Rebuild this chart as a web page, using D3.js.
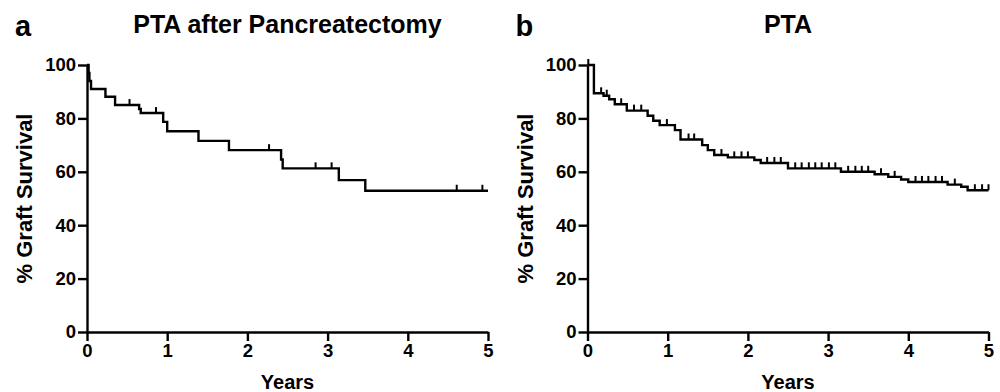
<!DOCTYPE html>
<html>
<head>
<meta charset="utf-8">
<script src="https://cdn.jsdelivr.net/npm/d3@7"></script>
<style>
  body { margin: 0; background: #fff; }
  svg text { font-family: "Liberation Sans", Arial, sans-serif; font-weight: bold; fill: #000; }
  .axis path, .axis line { stroke: #000; stroke-width: 2.4px; }
  .axis text { font-size: 18.5px; }
</style>
</head>
<body>
<svg id="chart" width="1000" height="392"></svg>
<script>
// shared axis values
const yearTicks = [0, 1, 2, 3, 4, 5];
const survivalTicks = [0, 20, 40, 60, 80, 100];

// panel a: [years, % survival] at each drop
const afterPancreatectomySteps = [
  [0, 100], [0.02, 97], [0.03, 94], [0.05, 91], [0.23, 88.1], [0.35, 85],
  [0.65, 83.5], [0.67, 82], [0.95, 78.7], [1.0, 75.2], [1.39, 71.6],
  [1.77, 68.1], [2.42, 64.6], [2.44, 61.3], [3.14, 56.9], [3.47, 52.9]
];
const afterPancreatectomyCensored = [0.53, 0.86, 2.27, 2.85, 3.05, 4.61, 4.93];

// panel b
const ptaSteps = [
  [0, 100], [0.08, 89.4], [0.20, 88.5], [0.27, 87.2], [0.34, 85.3], [0.49, 82.9],
  [0.75, 81], [0.82, 79.1], [0.90, 77.5], [1.09, 75.6], [1.16, 72.1], [1.43, 70],
  [1.50, 68.1], [1.58, 66.3], [1.75, 65.4], [2.08, 64.4], [2.16, 63.3], [2.50, 61.3],
  [3.16, 60], [3.58, 59.1], [3.75, 58.1], [3.91, 57.1], [4.0, 56.2], [4.49, 55.2],
  [4.66, 54.4], [4.74, 53.1]
];
const ptaCensored = [
  0.01, 0.17, 0.24, 0.42, 0.58, 0.67, 0.99, 1.26, 1.33, 1.67, 1.83, 1.92, 2.0,
  2.24, 2.33, 2.41, 2.59, 2.67, 2.76, 2.84, 2.92, 3.01, 3.09, 3.25, 3.34, 3.42,
  3.50, 3.66, 3.83, 4.09, 4.17, 4.25, 4.34, 4.42, 4.58, 4.83, 4.92, 5.0
];

class SurvivalPanel {
  constructor(svg, left, letter, title){
    this.svg = svg;
    this.left = left;
    this.letter = letter;
    this.title = title;
    this.top = 65;
    this.bottom = 332;
    this.x = d3.scaleLinear().domain([0, 5]).range([left, left + 401]);
    this.y = d3.scaleLinear().domain([0, 100]).range([this.bottom, this.top]);
  }

  valueAt(steps, t){
    let s = steps[0][1];
    steps.forEach(function(d){ if (d[0] <= t) s = d[1]; });
    return s;
  }

  draw(steps, censored){
    let self = this;
    let g = self.svg.append("g");

    g.append("g")
      .attr("class", "axis")
      .attr("transform", "translate(0," + self.bottom + ")")
      .call(d3.axisBottom(self.x).tickValues(yearTicks).tickSize(9).tickSizeOuter(0).tickPadding(3).tickFormat(d3.format("d")));

    g.append("g")
      .attr("class", "axis")
      .attr("transform", "translate(" + self.left + ",0)")
      .call(d3.axisLeft(self.y).tickValues(survivalTicks).tickSize(9).tickSizeOuter(0).tickPadding(2));

    let pts = steps.concat([[5, steps[steps.length - 1][1]]]);
    let line = d3.line()
      .x(d => self.x(d[0]))
      .y(d => self.y(d[1]))
      .curve(d3.curveStepAfter);

    g.append("path")
      .datum(pts)
      .attr("d", line)
      .attr("fill", "none")
      .attr("stroke", "#000")
      .attr("stroke-width", 2.4);

    // censored marks point upward
    g.selectAll(".censor")
      .data(censored)
      .enter()
      .append("line")
      .attr("class", "censor")
      .attr("x1", d => self.x(d))
      .attr("x2", d => self.x(d))
      .attr("y1", d => self.y(self.valueAt(steps, d)))
      .attr("y2", d => self.y(self.valueAt(steps, d)) - 6)
      .attr("stroke", "#000")
      .attr("stroke-width", 2);

    let mid = (self.x(0) + self.x(5)) / 2;
    g.append("text")
      .attr("x", mid)
      .attr("y", 33)
      .attr("text-anchor", "middle")
      .style("font-size", "25px")
      .text(self.title);

    g.append("text")
      .attr("x", self.left - 72)
      .attr("y", 36)
      .style("font-size", "29px")
      .text(self.letter);

    g.append("text")
      .attr("x", mid)
      .attr("y", 389)
      .attr("text-anchor", "middle")
      .style("font-size", "20px")
      .text("Years");

    g.append("text")
      .attr("transform", "translate(" + (self.left - 55) + "," + ((self.top + self.bottom) / 2) + ") rotate(-90)")
      .attr("text-anchor", "middle")
      .style("font-size", "22px")
      .text("% Graft Survival");
  }
}

let svg = d3.select("#chart");
new SurvivalPanel(svg, 87, "a", "PTA after Pancreatectomy").draw(afterPancreatectomySteps, afterPancreatectomyCensored);
new SurvivalPanel(svg, 587.5, "b", "PTA").draw(ptaSteps, ptaCensored);
</script>
</body>
</html>
